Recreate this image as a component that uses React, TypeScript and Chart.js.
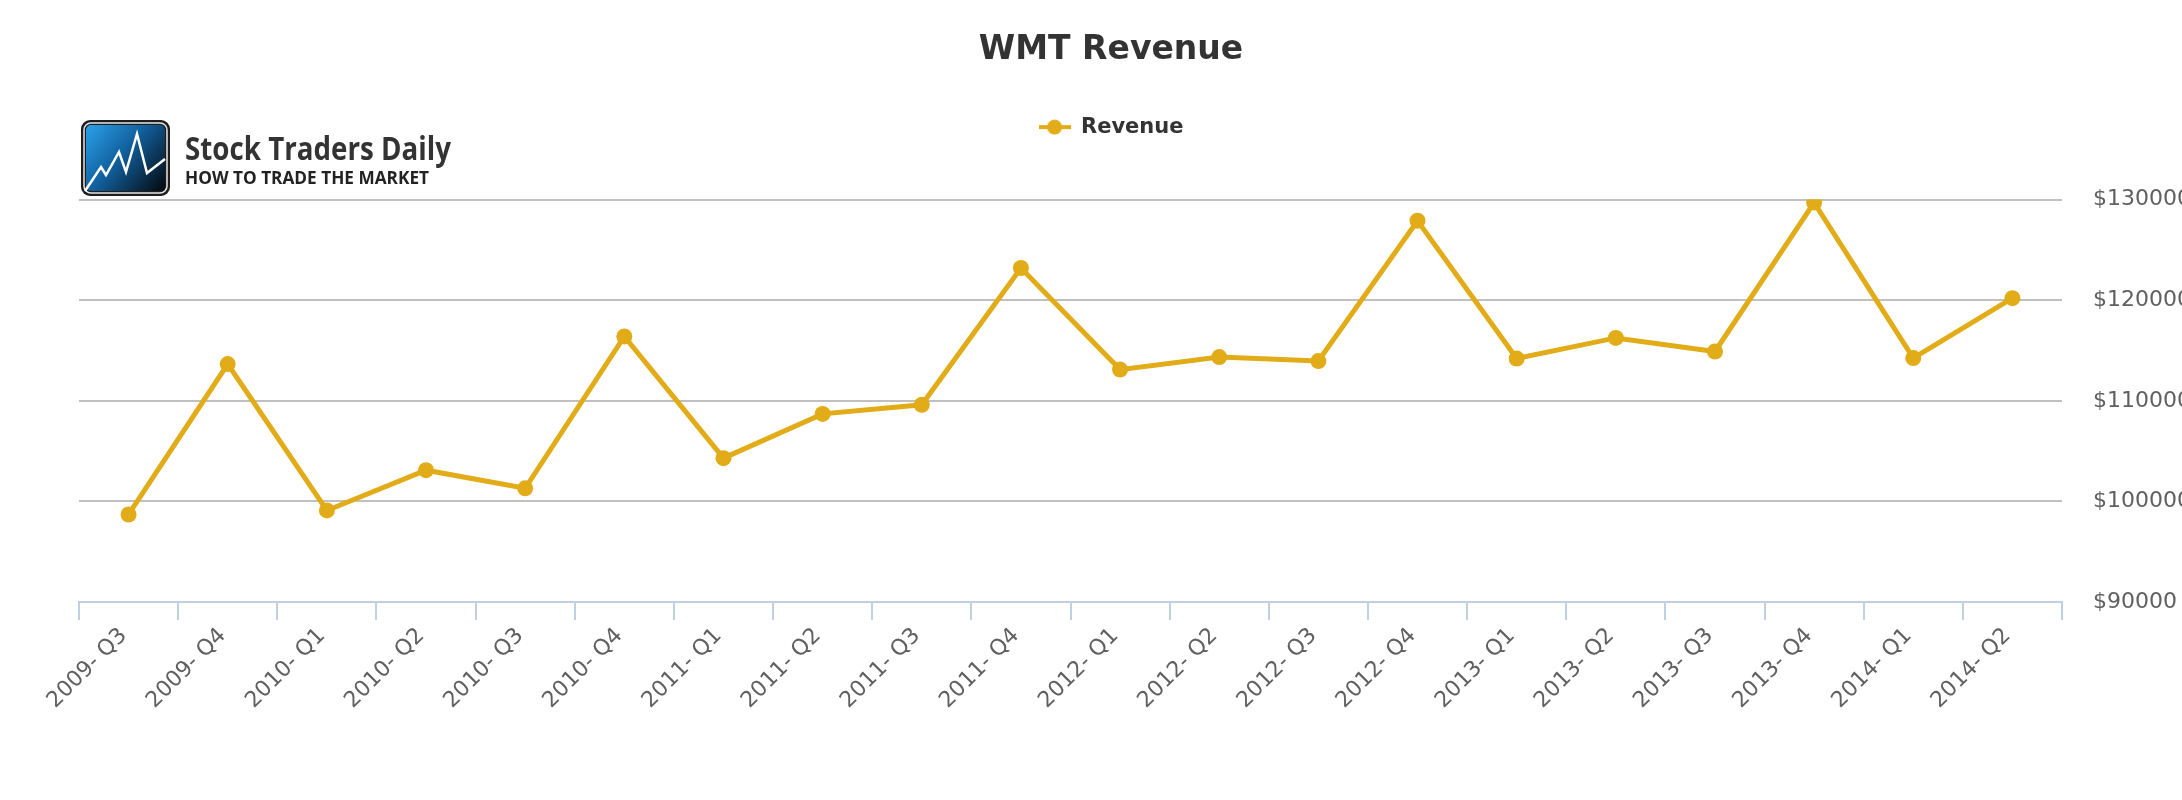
import { useEffect, useRef } from "react";
import { Chart, registerables, type Plugin } from "chart.js";

Chart.register(...registerables);

Chart.defaults.font.family = "'DejaVu Sans', Verdana, sans-serif";
Chart.defaults.color = "#606060";

const quarters = [
  "2009- Q3", "2009- Q4", "2010- Q1", "2010- Q2", "2010- Q3",
  "2010- Q4", "2011- Q1", "2011- Q2", "2011- Q3", "2011- Q4",
  "2012- Q1", "2012- Q2", "2012- Q3", "2012- Q4", "2013- Q1",
  "2013- Q2", "2013- Q3", "2013- Q4", "2014- Q1", "2014- Q2",
];

const revenue = [
  98700, 113650, 99100, 103100, 101300,
  116400, 104300, 108700, 109600, 123200,
  113100, 114350, 113950, 127900, 114200,
  116250, 114900, 129700, 114250, 120200,
];

const yMin = 90000;
const yMax = 130000;
const yStep = 10000;

const GOLD = "#E1AC17";

// legend symbol: short line with a dot, like the original
function makeLegendMarker() {
  const c = document.createElement("canvas");
  c.width = 32;
  c.height = 18;
  const g = c.getContext("2d")!;
  g.strokeStyle = GOLD;
  g.lineWidth = 4;
  g.beginPath();
  g.moveTo(0, 9);
  g.lineTo(32, 9);
  g.stroke();
  g.fillStyle = GOLD;
  g.beginPath();
  g.arc(16, 9, 7.5, 0, Math.PI * 2);
  g.fill();
  return c;
}

// extra room between legend and plot area
const legendGap: Plugin<"line"> = {
  id: "legendGap",
  afterInit(chart) {
    const legend = chart.legend as any;
    if (!legend || legend._gapPatched) return;
    const fit = legend.fit;
    legend.fit = function () {
      fit.call(this);
      this.height += 52;
    };
    legend._gapPatched = true;
  },
};

// Stock Traders Daily watermark, top left of the plot
const stdLogo: Plugin<"line"> = {
  id: "stdLogo",
  afterDraw(chart) {
    const ctx = chart.ctx;
    const x = chart.chartArea.left + 2;
    const y = 120;
    const w = 89;
    const h = 76;
    ctx.save();
    ctx.fillStyle = "#1e1e1e";
    ctx.beginPath();
    ctx.roundRect(x, y, w, h, 9);
    ctx.fill();
    ctx.strokeStyle = "#e6e6e6";
    ctx.lineWidth = 1.5;
    ctx.beginPath();
    ctx.roundRect(x + 3, y + 3, w - 6, h - 6, 7);
    ctx.stroke();
    const grad = ctx.createLinearGradient(x + 5, y + 5, x + w - 5, y + h - 5);
    grad.addColorStop(0, "#2aa2ea");
    grad.addColorStop(0.45, "#12609e");
    grad.addColorStop(1, "#04080c");
    ctx.fillStyle = grad;
    ctx.beginPath();
    ctx.roundRect(x + 5, y + 5, w - 10, h - 10, 5);
    ctx.fill();
    const zig = [
      [4, 71], [20, 47], [25, 55], [38, 32], [45, 52],
      [56, 14], [66, 53], [84, 39],
    ];
    ctx.strokeStyle = "#ffffff";
    ctx.lineWidth = 2.5;
    ctx.lineJoin = "miter";
    ctx.beginPath();
    zig.forEach(([px, py], i) => {
      if (i === 0) ctx.moveTo(x + px, y + py);
      else ctx.lineTo(x + px, y + py);
    });
    ctx.stroke();

    ctx.textAlign = "left";
    ctx.textBaseline = "alphabetic";
    ctx.fillStyle = "#333333";
    ctx.font = "bold 32px 'Open Sans'";
    ctx.fillText("Stock Traders Daily", x + 104, y + 40, 266);
    ctx.fillStyle = "#222222";
    ctx.font = "bold 18px 'Open Sans'";
    ctx.fillText("HOW TO TRADE THE MARKET", x + 104, y + 64, 244);
    ctx.restore();
  },
};

export default function App() {
  const canvasRef = useRef<HTMLCanvasElement>(null);

  useEffect(() => {
    if (!canvasRef.current) return;
    const marker = makeLegendMarker();
    const chart = new Chart(canvasRef.current, {
      type: "line",
      data: {
        labels: quarters,
        datasets: [
          {
            label: "Revenue",
            data: revenue,
            yAxisID: "y",
            borderColor: GOLD,
            backgroundColor: GOLD,
            borderWidth: 5,
            pointRadius: 8,
            pointHoverRadius: 8,
            pointBorderWidth: 0,
            pointBackgroundColor: GOLD,
            tension: 0,
          },
        ],
      },
      options: {
        responsive: false,
        animation: false,
        layout: { padding: 0 },
        plugins: {
          title: {
            display: true,
            text: "WMT Revenue",
            color: "#333333",
            font: { size: 33, weight: "bold" },
            padding: { top: 31, bottom: 6 },
          },
          legend: {
            display: true,
            labels: {
              usePointStyle: true,
              pointStyle: marker,
              pointStyleWidth: 32,
              color: "#333333",
              font: { size: 21, weight: "bold" },
              padding: 40,
            },
          },
          tooltip: { enabled: false },
        },
        scales: {
          x: {
            offset: true,
            grid: {
              display: true,
              offset: true,
              drawOnChartArea: false,
              drawTicks: true,
              tickLength: 18,
              color: "#C0D0E0",
              lineWidth: 2,
            },
            border: { display: true, color: "#C0D0E0", width: 2 },
            ticks: {
              autoSkip: false,
              minRotation: 45,
              maxRotation: 45,
              padding: 3,
              labelOffset: -5,
              color: "#606060",
              font: { size: 22 },
            },
            afterFit: (s) => {
              s.height = 198;
            },
          },
          y: {
            position: "right",
            min: yMin,
            max: yMax,
            grid: {
              color: "#C0C0C0",
              lineWidth: 2,
              drawTicks: false,
            },
            border: { display: false },
            ticks: {
              stepSize: yStep,
              padding: 31,
              color: "#606060",
              font: { size: 22 },
              callback: (v) => "$" + v,
            },
            afterFit: (s) => {
              s.width = 160;
            },
          },
          // empty left margin so the title and legend stay centred on the full width
          gutter: {
            type: "linear",
            position: "left",
            display: true,
            grid: { display: false },
            border: { display: false },
            ticks: { display: false },
            afterFit: (s) => {
              s.width = 79;
            },
          },
        },
      },
      plugins: [legendGap, stdLogo],
    });
    return () => chart.destroy();
  }, []);

  return (
    <div
      style={{
        position: "absolute",
        left: 0,
        top: 0,
        width: 2182,
        height: 800,
        overflow: "hidden",
        background: "#ffffff",
      }}
    >
      <canvas ref={canvasRef} width={2222} height={800} />
    </div>
  );
}
